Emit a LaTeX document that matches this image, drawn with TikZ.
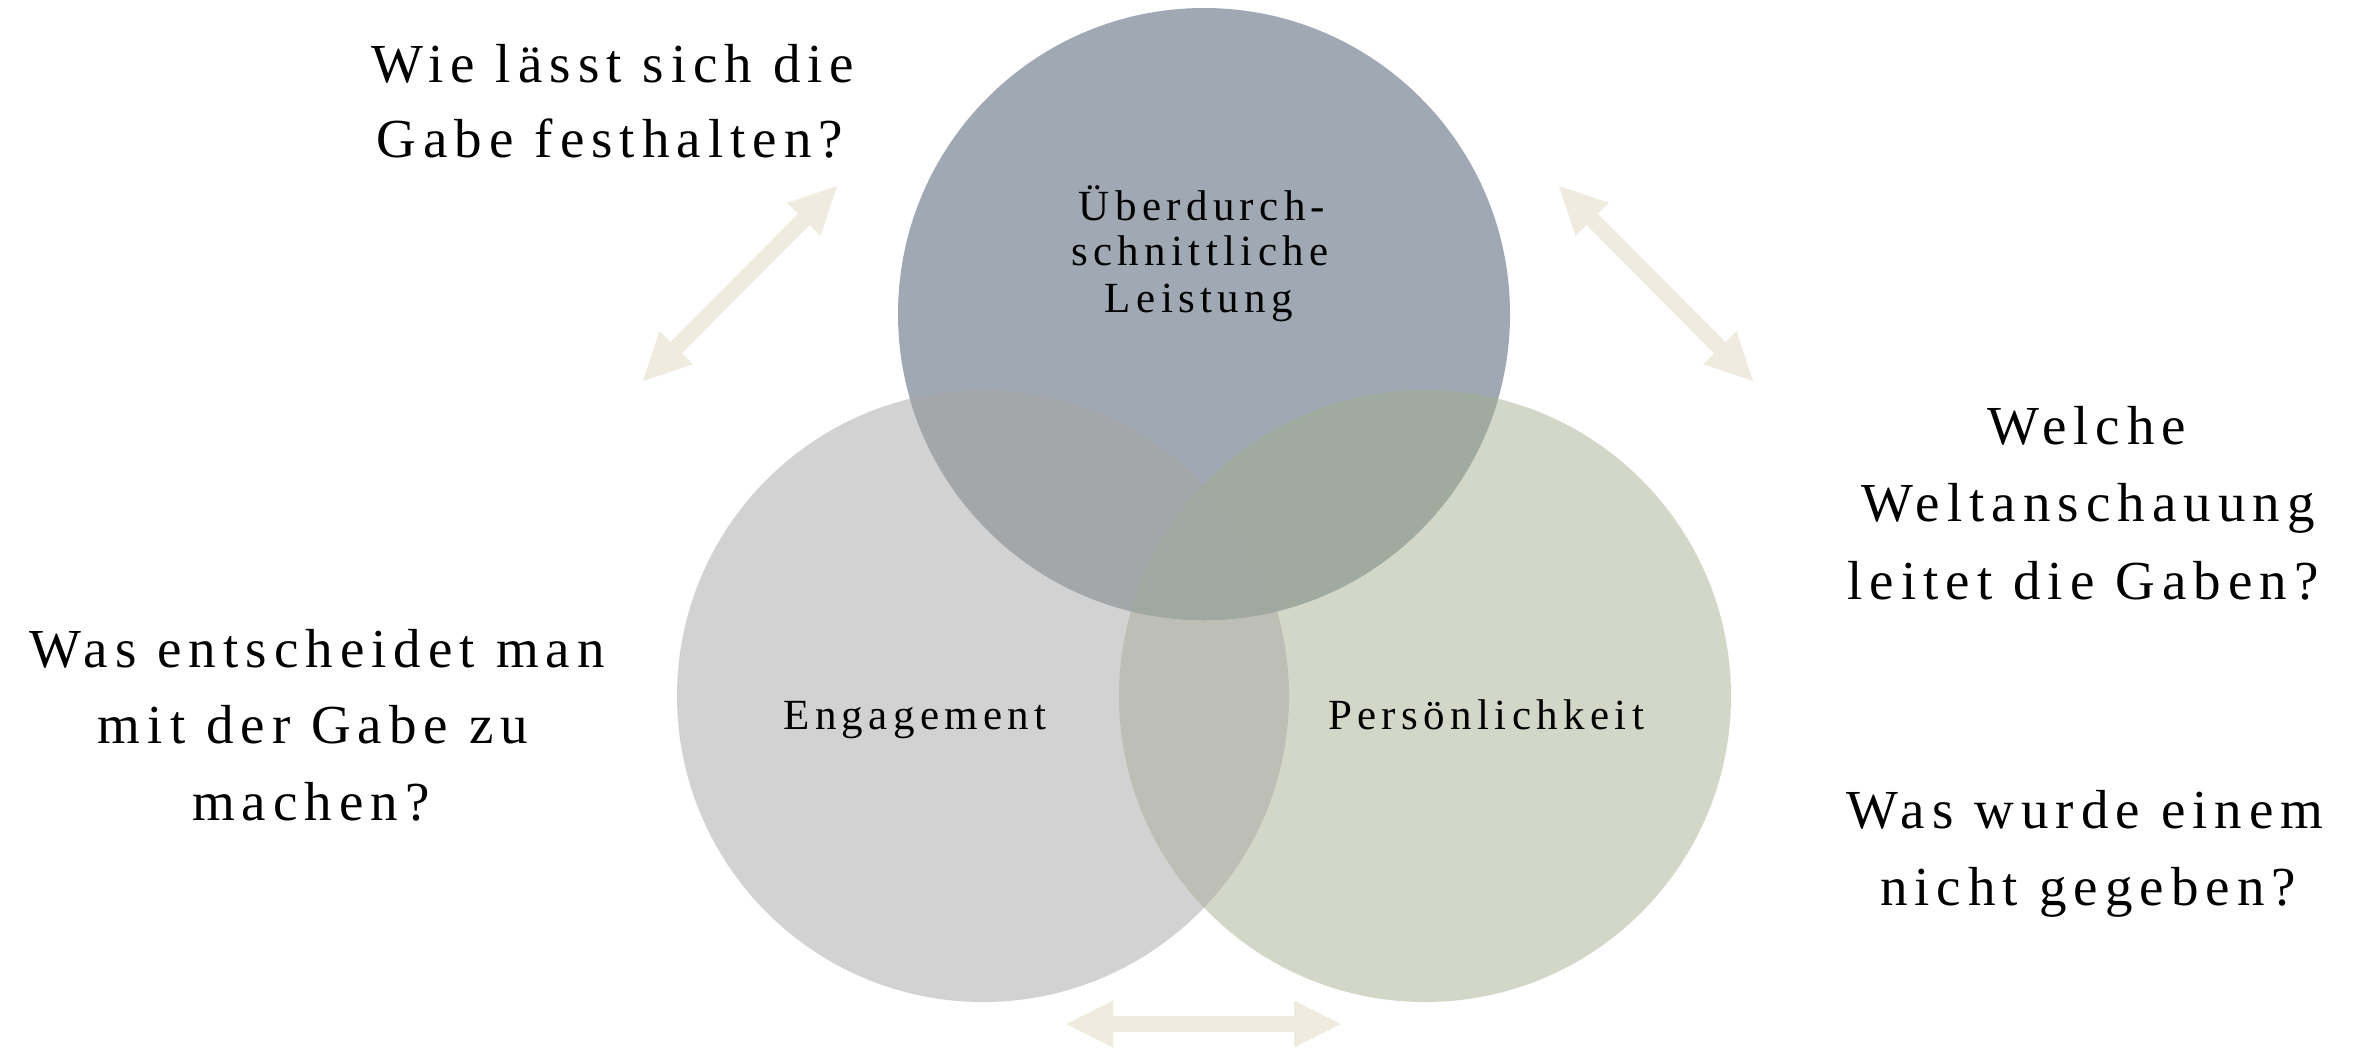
\documentclass[tikz,border=0pt]{standalone}
\usepackage{fontspec}
\setmainfont{Liberation Serif}
\newfontfamily\qfont[LetterSpace=12.8]{Liberation Serif}
\newfontfamily\lfont[LetterSpace=12.5]{Liberation Serif}
\usetikzlibrary{arrows.meta}
\definecolor{cT}{HTML}{A0A8B4}
\definecolor{cL}{HTML}{D2D2D2}
\definecolor{cR}{HTML}{D3D7C7}
\definecolor{cTL}{HTML}{A3A7A9}
\definecolor{cTR}{HTML}{A0AA9F}
\definecolor{cLR}{HTML}{BDBEB6}
\definecolor{cTLR}{HTML}{A1A7A1}
\definecolor{cArr}{HTML}{EFEBDF}
\begin{document}
\begin{tikzpicture}[x=0.3pt,y=-0.3pt,
  circ/.style={circle,minimum size=183.6pt,inner sep=0pt,outer sep=0pt},
  q/.style={anchor=base,inner sep=0pt,font=\qfont\fontsize{16.5}{20}\selectfont},
  lab/.style={anchor=base,inner sep=0pt,font=\lfont\fontsize{12.9}{15}\selectfont},
  tipA/.tip={Triangle[length=14.1pt,width=14.1pt,line width=0pt]},
  dbl/.style={draw=cArr,line width=4.8pt,tipA-tipA}]
\useasboundingbox (0,0) rectangle (2358,1048);
% circles
\node[circ,fill=cL] (L) at (983,696) {};
\node[circ,fill=cR] (R) at (1425,696) {};
\node[circ,fill=cT] (T) at (1204,314) {};
\begin{scope}
  \clip (L.center) circle[radius=306];
  \fill[cLR] (R.center) circle[radius=306];
\end{scope}
\begin{scope}
  \clip (T.center) circle[radius=306];
  \fill[cTL] (L.center) circle[radius=306];
\end{scope}
\begin{scope}
  \clip (T.center) circle[radius=306];
  \fill[cTR] (R.center) circle[radius=306];
\end{scope}
\begin{scope}
  \clip (T.center) circle[radius=306];
  \clip (L.center) circle[radius=306];
  \fill[cTLR] (R.center) circle[radius=306];
\end{scope}
% circle labels
\node[lab] (t1) at (1202,220) {Überdurch-};
\node[lab] (t2) at (1200,265) {schnittliche};
\node[lab] (t3) at (1199,312) {Leistung};
\node[lab] (eng) at (915,729) {Engagement};
\node[lab] (per) at (1486,729) {Persönlichkeit};
% arrows
\coordinate (a1s) at (643,381);
\coordinate (a1e) at (837,186);
\coordinate (a2s) at (1559,186);
\coordinate (a2e) at (1753,381);
\coordinate (a3s) at (1066,1024);
\coordinate (a3e) at (1341,1024);
\draw[dbl] (a1s) -- (a1e);
\draw[dbl] (a2s) -- (a2e);
\draw[dbl] (a3s) -- (a3e);
% questions
\node[q] (qa1) at (613,82) {Wie lässt sich die};
\node[q] (qa2) at (610,157) {Gabe festhalten?};
\node[q] (qb1) at (2087,444) {Welche};
\node[q] (qb2) at (2088,521) {Weltanschauung};
\node[q] (qb3) at (2083,599) {leitet die Gaben?};
\node[q] (qc1) at (2085,828) {Was wurde einem};
\node[q] (qc2) at (2088,905) {nicht gegeben?};
\node[q] (qd1) at (317,667) {Was entscheidet man};
\node[q] (qd2) at (313,743) {mit der Gabe zu};
\node[q] (qd3) at (311,820) {machen?};
\end{tikzpicture}
\end{document}
